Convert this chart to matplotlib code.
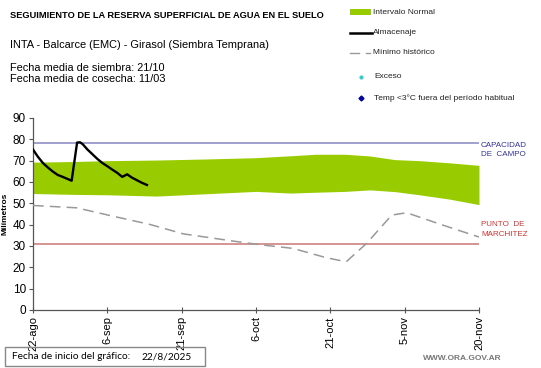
import matplotlib
matplotlib.use("Agg")
import matplotlib.pyplot as plt
from matplotlib.lines import Line2D
from matplotlib.patches import Rectangle

plt.rcParams['font.family'] = ['Liberation Sans', 'DejaVu Sans']

# --- data (day offset from 22/8/2025) ---
tick_days = [0, 15, 30, 45, 60, 75, 90]
tick_labels = ['22-ago', '6-sep', '21-sep', '6-oct', '21-oct', '5-nov', '20-nov']

alm_days = [0, 1, 2, 3, 4, 5, 6, 7, 7.8, 8.9, 9.5, 10, 11, 12, 13, 14, 15, 16, 17, 18, 19, 20, 21, 22, 23]
alm_vals = [75.2, 71.8, 68.9, 66.8, 64.9, 63.3, 62.4, 61.4, 60.6, 78.5, 78.6, 77.8, 75.2, 73.0, 70.8, 68.9,
            67.4, 65.8, 64.3, 62.4, 63.6, 62.0, 60.8, 59.6, 58.6]

band_days = [0, 8, 15, 25, 35, 45, 52, 57, 63, 68, 73, 78, 84, 90]
band_upper = [69.3, 69.6, 70.0, 70.3, 70.8, 71.4, 72.3, 73.0, 73.0, 72.2, 70.5, 70.0, 69.0, 67.8]
band_lower = [54.6, 54.2, 54.0, 53.4, 54.5, 55.6, 54.8, 55.2, 55.6, 56.3, 55.5, 54.0, 52.0, 49.4]

min_days = [0, 8.8, 15.5, 23.6, 30.3, 40.4, 45.8, 52.4, 59.2, 63.2, 67.3, 72.4, 75.4, 82.7, 90]
min_vals = [49.0, 47.9, 44.3, 40.1, 35.7, 32.3, 30.6, 28.9, 24.5, 22.6, 31.2, 44.5, 45.6, 39.8, 34.2]

capacidad = 78.3
marchitez = 30.9

fig = plt.figure(figsize=(5.41, 3.68), dpi=100)
ax = fig.add_axes([33/541, 1 - 310/368, 446/541, 192/368])

ax.fill_between(band_days, band_lower, band_upper, color='#99CC00', lw=0, zorder=1)
ax.axhline(capacidad, color='#9999CC', lw=1.3, zorder=2)
ax.axhline(marchitez, color='#CC7777', lw=1.1, zorder=2)
ax.plot(min_days, min_vals, color='#999999', lw=1.1, dashes=(7, 4), zorder=3)
ax.plot(alm_days, alm_vals, color='black', lw=1.7, zorder=4)

ax.set_xlim(0, 90)
ax.set_ylim(0, 90)
ax.set_yticks(range(0, 91, 10))
ax.set_xticks(tick_days)
ax.set_xticklabels(tick_labels, rotation=90, fontsize=8)
ax.tick_params(axis='y', labelsize=8.5, length=3, width=0.8, color='#555555', pad=2)
ax.tick_params(axis='x', direction='inout', length=5, width=0.8, color='#555555', pad=2)
for s in ['top', 'right']:
    ax.spines[s].set_visible(False)
for s in ['left', 'bottom']:
    ax.spines[s].set_color('#555555')
    ax.spines[s].set_linewidth(0.9)
ax.set_ylabel('Milímetros', fontsize=6, fontweight='bold')
ax.yaxis.set_label_coords(-24/446, 0.5)

# side labels
fig.text(481/541, 1 - 150/368, 'CAPACIDAD\nDE  CAMPO', color='#333399', fontsize=5.8, va='center',
         ha='left', linespacing=1.5)
fig.text(481/541, 1 - 229.5/368, 'PUNTO  DE\nMARCHITEZ', color='#CC3333', fontsize=5.8, va='center',
         ha='left', linespacing=1.4)

# titles
fig.text(10/541, 1 - 15/368, 'SEGUIMIENTO DE LA RESERVA SUPERFICIAL DE AGUA EN EL SUELO',
         fontsize=6.7, fontweight='bold', va='center', ha='left')
fig.text(10/541, 1 - 45/368, 'INTA - Balcarce (EMC) - Girasol (Siembra Temprana)',
         fontsize=7.9, va='center', ha='left')
fig.text(10/541, 1 - 71/368, 'Fecha media de siembra: 21/10', fontsize=7.9, va='baseline', ha='left')
fig.text(10/541, 1 - 82/368, 'Fecha media de cosecha: 11/03', fontsize=7.9, va='baseline', ha='left')

# legend (manual)
fig.add_artist(Rectangle((350/541, 1 - 15/368), 21/541, 6/368, transform=fig.transFigure,
                         color='#99CC00', lw=0))
fig.add_artist(Line2D([350/541, 372/541], [1 - 33/368, 1 - 33/368], transform=fig.transFigure,
                      color='black', lw=1.8))
fig.add_artist(Line2D([350/541, 359/541], [1 - 53/368, 1 - 53/368], transform=fig.transFigure,
                      color='#999999', lw=1.0))
fig.add_artist(Line2D([366/541, 370/541], [1 - 53/368, 1 - 53/368], transform=fig.transFigure,
                      color='#999999', lw=1.0))
fig.add_artist(Line2D([361/541], [1 - 77/368], transform=fig.transFigure, marker='o', ms=2,
                      color='#33CCCC', lw=0))
fig.add_artist(Line2D([361/541], [1 - 98/368], transform=fig.transFigure, marker='D', ms=2.5,
                      color='#000099', lw=0))
leg_items = [(373, 12, 'Intervalo Normal'), (373, 33, 'Almacenaje'), (373, 53, 'Mínimo histórico'),
             (374, 77, 'Exceso'), (374, 98, 'Temp <3°C fuera del período habitual')]
for x, y, t in leg_items:
    fig.text(x/541, 1 - y/368, t, fontsize=6.0, va='center', ha='left', color='#222222')

# bottom box
fig.add_artist(Rectangle((5/541, 1 - 366/368), 200/541, 19/368, transform=fig.transFigure,
                         fill=False, ec='#888888', lw=1.0))
fig.text(12/541, 1 - 356.5/368, 'Fecha de inicio del gráfico:', fontsize=7.3, va='center',
         ha='left', family=['Lato', 'DejaVu Sans'])
fig.text(142/541, 1 - 356.5/368, '22/8/2025', fontsize=7.3, va='center', ha='left',
         family=['Lato', 'DejaVu Sans'])
fig.text(502/541, 1 - 359/368, 'WWW.ORA.GOV.AR', fontsize=6.0, fontweight='bold', color='#777777',
         va='center', ha='right')

fig.savefig('out.png', dpi=100)
